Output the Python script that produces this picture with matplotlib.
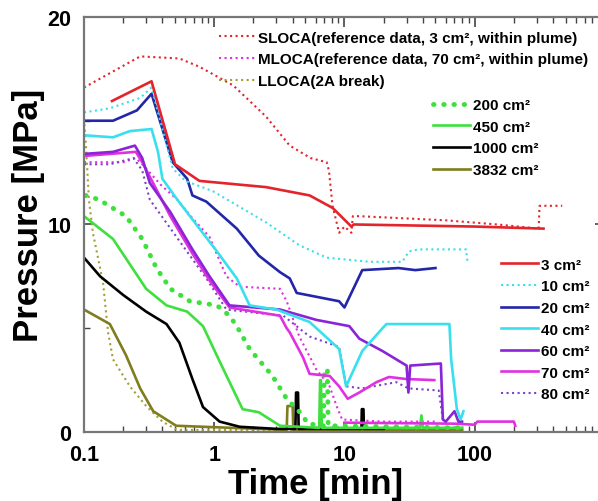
import matplotlib
matplotlib.use("Agg")
import matplotlib.pyplot as plt
from matplotlib.ticker import FixedLocator, NullFormatter, LogLocator

# reference data (dotted)
sloca_t = [0.1, 0.27, 0.54, 0.77, 1.4, 2.5, 3.8, 5.5, 7.3, 7.6, 8.1, 9.1, 10.0, 11.3, 11.6, 13.0, 60, 150, 310, 315, 470]
sloca_p = [16.6, 18.1, 18.0, 17.6, 16.7, 15.2, 13.8, 13.2, 13.0, 12.6, 10.9, 9.6, 9.9, 9.6, 10.4, 10.4, 10.2, 10.0, 9.8, 10.9, 10.9]
mloca_t = [0.1, 0.2, 0.25, 0.28, 0.39, 0.52, 0.68, 0.92, 1.24, 1.57, 3.2, 3.6, 4.5, 6.1, 7.7, 8.7, 9.6, 20, 50]
mloca_p = [13.0, 13.0, 13.2, 12.9, 11.9, 11.2, 10.3, 9.4, 7.5, 7.0, 6.9, 6.3, 4.6, 3.0, 2.2, 1.25, 0.6, 0.5, 0.5]
lloca_t = [0.1, 0.104, 0.109, 0.117, 0.14, 0.153, 0.167, 0.225, 0.30, 0.40, 0.52, 5, 60]
lloca_p = [15.1, 13.6, 11.2, 9.6, 7.2, 4.8, 3.5, 2.2, 1.25, 0.5, 0.1, 0.1, 0.1]

# break sizes
t3 = [0.164, 0.33, 0.50, 0.77, 2.5, 5.4, 8.1, 11.3, 11.8, 100, 338]
p3 = [15.95, 16.9, 12.9, 12.1, 11.8, 11.4, 10.8, 9.9, 10.0, 9.9, 9.8]
t10 = [0.1, 0.158, 0.27, 0.33, 0.48, 0.6, 0.98, 2.5, 4.5, 7.3, 15.6, 27.8, 31.3, 37, 86, 88]
p10 = [15.4, 15.6, 16.1, 16.6, 12.7, 12.1, 11.6, 10.1, 9.0, 8.4, 8.2, 8.2, 8.7, 8.8, 8.8, 8.2]
t20 = [0.1, 0.167, 0.255, 0.33, 0.48, 0.62, 0.68, 0.87, 1.49, 2.2, 3.2, 3.8, 4.3, 9.1, 10.0, 13.7, 26, 35, 50]
p20 = [15.0, 15.0, 15.5, 16.3, 13.0, 12.2, 11.4, 11.1, 9.8, 8.5, 7.7, 7.4, 6.7, 6.3, 6.0, 7.8, 7.9, 7.8, 7.9]
t40 = [0.1, 0.167, 0.225, 0.33, 0.37, 0.40, 0.52, 0.77, 1.05, 1.49, 1.87, 3.0, 5.4, 9.1, 10.3, 13.7, 19.6, 21, 64, 66, 73, 78, 82]
p40 = [14.3, 14.2, 14.5, 14.6, 13.5, 12.2, 11.2, 9.8, 8.7, 7.4, 6.1, 5.9, 5.3, 4.0, 2.2, 3.9, 5.0, 5.2, 5.2, 3.5, 1.1, 0.6, 1.0]
t60 = [0.1, 0.167, 0.246, 0.28, 0.32, 0.46, 0.68, 0.92, 1.31, 3.2, 6.1, 10.9, 13, 19.6, 30, 31, 32, 55, 57, 60, 70, 75, 80]
p60 = [13.4, 13.5, 13.8, 13.2, 12.0, 10.6, 8.8, 7.5, 6.1, 5.9, 5.4, 5.1, 4.5, 3.9, 3.2, 1.9, 3.2, 3.3, 0.6, 0.5, 1.0, 0.5, 0.5]
t70 = [0.1, 0.25, 0.28, 0.46, 0.68, 0.92, 1.31, 3.2, 3.6, 3.8, 4.8, 5.4, 7.7, 9.1, 10.6, 13, 17.6, 22, 30, 49]
p70 = [13.3, 13.5, 13.0, 10.4, 8.6, 7.3, 6.0, 5.6, 5.0, 4.8, 3.6, 2.8, 2.7, 2.2, 1.6, 1.9, 2.4, 2.65, 2.55, 2.5]
t70_low = [10, 70, 100, 105, 200, 205]
p70_low = [0.45, 0.4, 0.35, 0.5, 0.5, 0.3]
t80 = [0.1, 0.158, 0.24, 0.28, 0.32, 0.57, 0.87, 1.24, 3.4, 5.4, 9.1, 10.3, 13.7, 25, 31, 53, 57, 60]
p80 = [12.9, 12.9, 13.2, 12.6, 11.2, 9.0, 7.4, 5.9, 5.6, 4.6, 4.1, 2.2, 2.1, 2.4, 2.1, 2.0, 0.6, 0.5]
t200 = [0.103, 0.13, 0.21, 0.28, 0.36, 0.46, 0.65, 1.05, 1.31, 1.49, 1.87, 2.8, 3.6, 4.8, 5.2, 6.9, 7.0, 7.4, 7.5, 80]
p200 = [11.4, 11.2, 10.4, 9.3, 7.9, 6.9, 6.3, 6.1, 5.6, 5.1, 4.0, 2.7, 1.6, 0.8, 0.4, 0.3, 3.0, 3.0, 0.3, 0.2]
t450 = [0.1, 0.167, 0.30, 0.43, 0.62, 0.82, 1.1, 1.65, 2.2, 3.2, 6.4, 6.5, 6.6, 6.7, 38, 39, 40, 80]
p450 = [10.4, 9.3, 6.9, 6.1, 5.8, 5.1, 3.4, 1.1, 0.95, 0.3, 0.2, 2.5, 2.5, 0.2, 0.2, 0.8, 0.2, 0.2]
t1000 = [0.1, 0.133, 0.2, 0.30, 0.43, 0.54, 0.68, 0.82, 1.1, 1.57, 3.0, 4.2, 4.25, 4.4, 4.45, 13.5, 13.6, 14, 14.1, 20]
p1000 = [8.4, 7.5, 6.6, 5.8, 5.2, 4.3, 2.55, 1.2, 0.5, 0.25, 0.15, 0.15, 1.9, 1.9, 0.15, 0.15, 1.1, 1.1, 0.15, 0.15]
t3832 = [0.1, 0.158, 0.21, 0.27, 0.34, 0.51, 3.6, 3.65, 4.0, 4.05, 80]
p3832 = [5.9, 5.2, 3.7, 2.1, 1.0, 0.3, 0.1, 1.25, 1.25, 0.1, 0.1]

RED = "#e3242b"
CYAN = "#38e0ee"
BLUE = "#2326a8"
PURPLE = "#8a24d6"
MAGENTA = "#e030e0"
PURPLE_DOT = "#7a44c8"
GREEN = "#3ee03e"
OLIVE = "#7f7d1e"

fig = plt.figure(figsize=(5.98, 5.02), dpi=100)
ax = fig.add_axes([0.1405, 0.1375, 0.871, 0.8267])

dot = dict(linestyle=":", lw=1.5)
sol = dict(linestyle="-", lw=1.9)

h_sl, = ax.plot(sloca_t, sloca_p, color=RED, **dot)
h_ml, = ax.plot(mloca_t, mloca_p, color=MAGENTA, **dot)
h_ll, = ax.plot(lloca_t, lloca_p, color="#a3a033", **dot)

h3832, = ax.plot(t3832, p3832, color=OLIVE, **sol)
h1000, = ax.plot(t1000, p1000, color="black", **sol)
h450, = ax.plot(t450, p450, color=GREEN, **sol)
h200, = ax.plot(t200, p200, color=GREEN, lw=3.5, dashes=(0.1, 2.0), dash_capstyle="round")
h80, = ax.plot(t80, p80, color=PURPLE_DOT, **dot)
ax.plot(t70_low, p70_low, color=MAGENTA, **sol)
h70, = ax.plot(t70, p70, color=MAGENTA, **sol)
h60, = ax.plot(t60, p60, color=PURPLE, **sol)
h40, = ax.plot(t40, p40, color=CYAN, **sol)
h20, = ax.plot(t20, p20, color=BLUE, **sol)
h10, = ax.plot(t10, p10, color=CYAN, **dot)
h3, = ax.plot(t3, p3, color=RED, **sol)

ax.set_xscale("log")
ax.set_xlim(0.1, 1000)
ax.set_ylim(0, 20)
ax.set_xticks([0.1, 1, 10, 100])
ax.set_xticklabels(["0.1", "1", "10", "100"])
ax.xaxis.set_minor_locator(LogLocator(base=10, subs=range(2, 10)))
ax.xaxis.set_minor_formatter(NullFormatter())
ax.set_yticks([0, 10, 20])
ax.yaxis.set_minor_locator(FixedLocator([5, 15]))

tick_font = dict(family="Liberation Sans", weight="bold", size=15.5)
for lab in ax.get_xticklabels() + ax.get_yticklabels():
    lab.set_fontproperties(tick_font)
ax.tick_params(which="both", direction="in", top=True, right=True, color="#444444")
ax.tick_params(which="major", length=7, width=1.2)
ax.tick_params(axis="x", which="major", pad=9)
ax.tick_params(axis="y", which="major", pad=9)
ax.tick_params(which="minor", length=4, width=1.0)
for s in ax.spines.values():
    s.set_color("#777777")
    s.set_linewidth(1.6)

ax.set_xlabel("Time [min]", family="Liberation Sans", weight="bold", size=25)
ax.set_ylabel("Pressure [MPa]", family="Liberation Sans", weight="bold", size=25)
ax.xaxis.set_label_coords(0.445, -0.085)
ax.yaxis.set_label_coords(-0.075, 0.525)

leg_font = dict(family="Liberation Sans", weight="bold", size=11)
common = dict(frameon=False, prop=leg_font, borderpad=0, handlelength=2.4,
              handletextpad=0.2, labelspacing=0.5, loc="upper left",
              bbox_transform=fig.transFigure)

leg1 = ax.legend([h_sl, h_ml, h_ll],
                 ["SLOCA(reference data, 3 cm\u00b2, within plume)",
                  "MLOCA(reference data, 70 cm\u00b2, within plume)",
                  "LLOCA(2A break)"],
                 bbox_to_anchor=(0.353, 0.952), **common)
ax.add_artist(leg1)
leg2 = ax.legend([h200, h450, h1000, h3832],
                 ["200 cm\u00b2", "450 cm\u00b2", "1000 cm\u00b2", "3832 cm\u00b2"],
                 bbox_to_anchor=(0.712, 0.818), **common)
ax.add_artist(leg2)
ax.legend([h3, h10, h20, h40, h60, h70, h80],
          ["3 cm\u00b2", "10 cm\u00b2", "20 cm\u00b2", "40 cm\u00b2", "60 cm\u00b2", "70 cm\u00b2", "80 cm\u00b2"],
          bbox_to_anchor=(0.825, 0.500), **common)

fig.savefig("out.png", dpi=100)
